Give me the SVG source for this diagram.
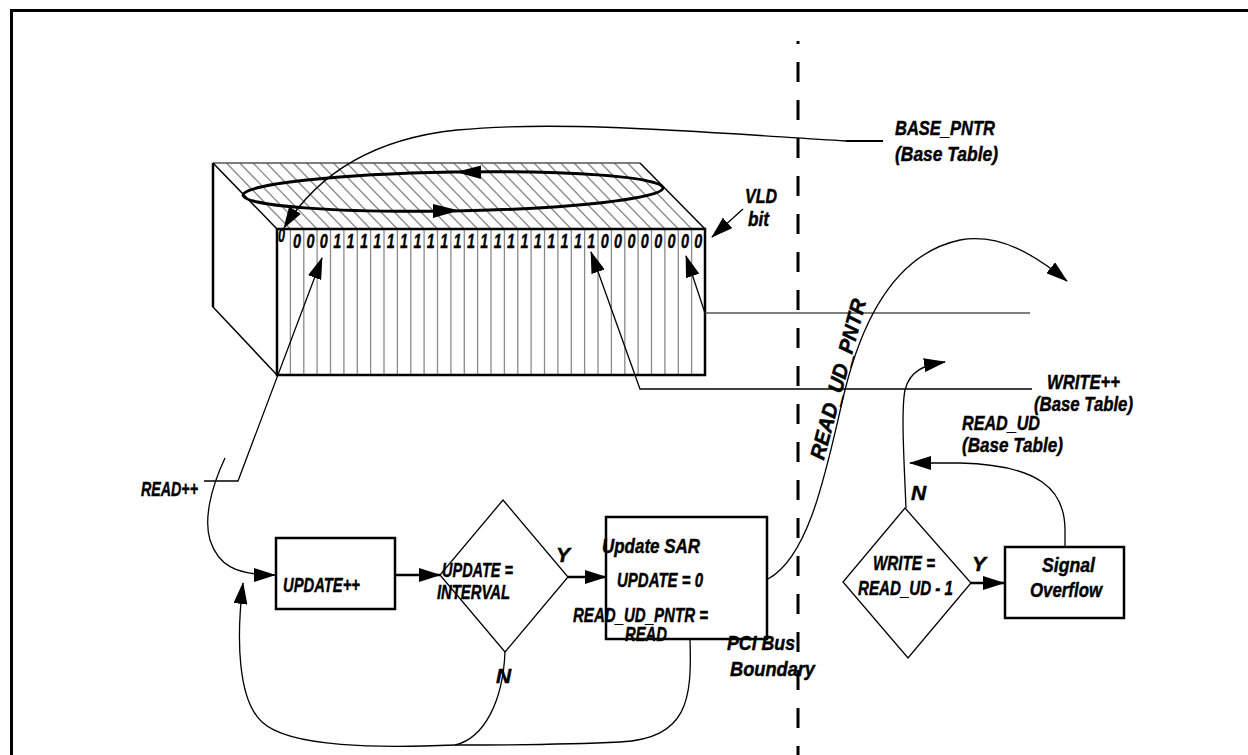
<svg xmlns="http://www.w3.org/2000/svg" width="1248" height="755" viewBox="0 0 1248 755">
<style>
.t{font-family:"Liberation Sans Narrow","Liberation Sans",Arial,sans-serif;font-weight:bold;font-style:italic;font-size:21px;fill:#000;stroke:#000;stroke-width:0.45}
.d{font-family:"Liberation Sans Narrow","Liberation Sans",Arial,sans-serif;font-weight:bold;font-style:italic;font-size:20px;fill:#000;stroke:#000;stroke-width:0.4;text-anchor:middle}
.c{fill:none;stroke:#000;stroke-width:1.3}
.box{fill:#fff;stroke:#000;stroke-width:2.5}
.dia{fill:#fff;stroke:#000;stroke-width:1.3}
.g{stroke:#8a8a8a;stroke-width:1.3}
</style>
<defs>
<marker id="ah" viewBox="0 0 22 14" refX="21" refY="7" markerWidth="22" markerHeight="14" markerUnits="userSpaceOnUse" orient="auto"><path d="M0,0 L22,7 L0,14 z" fill="#000"/></marker>
</defs>
<path d="M11.5,755 L11.5,10.5 L1248,10.5" fill="none" stroke="#000" stroke-width="3"/>

<g id="register-block">
<polygon points="213,163 640,163 705,229 277,229" fill="#fff" stroke="none"/>
<g class="g">
<line x1="226.4" y1="163" x2="290.4" y2="229"/><line x1="239.8" y1="163" x2="303.8" y2="229"/><line x1="253.1" y1="163" x2="317.1" y2="229"/><line x1="266.5" y1="163" x2="330.5" y2="229"/><line x1="279.9" y1="163" x2="343.9" y2="229"/><line x1="293.3" y1="163" x2="357.3" y2="229"/><line x1="306.6" y1="163" x2="370.6" y2="229"/><line x1="320" y1="163" x2="384" y2="229"/><line x1="333.4" y1="163" x2="397.4" y2="229"/><line x1="346.8" y1="163" x2="410.8" y2="229"/><line x1="360.1" y1="163" x2="424.1" y2="229"/><line x1="373.5" y1="163" x2="437.5" y2="229"/><line x1="386.9" y1="163" x2="450.9" y2="229"/><line x1="400.3" y1="163" x2="464.3" y2="229"/><line x1="413.6" y1="163" x2="477.6" y2="229"/><line x1="427" y1="163" x2="491" y2="229"/><line x1="440.4" y1="163" x2="504.4" y2="229"/><line x1="453.8" y1="163" x2="517.8" y2="229"/><line x1="467.1" y1="163" x2="531.1" y2="229"/><line x1="480.5" y1="163" x2="544.5" y2="229"/><line x1="493.9" y1="163" x2="557.9" y2="229"/><line x1="507.3" y1="163" x2="571.3" y2="229"/><line x1="520.6" y1="163" x2="584.6" y2="229"/><line x1="534" y1="163" x2="598" y2="229"/><line x1="547.4" y1="163" x2="611.4" y2="229"/><line x1="560.8" y1="163" x2="624.8" y2="229"/><line x1="574.1" y1="163" x2="638.1" y2="229"/><line x1="587.5" y1="163" x2="651.5" y2="229"/><line x1="600.9" y1="163" x2="664.9" y2="229"/><line x1="614.3" y1="163" x2="678.3" y2="229"/><line x1="627.6" y1="163" x2="691.6" y2="229"/>
</g>
<line x1="213" y1="163" x2="640" y2="163" stroke="#555" stroke-width="1.5"/>
<line x1="213" y1="163" x2="277" y2="229" stroke="#000" stroke-width="1.5"/>
<line x1="640" y1="163" x2="705" y2="229" stroke="#000" stroke-width="1.5"/>
<polyline points="213,163 213,307 277,375" fill="none" stroke="#000" stroke-width="1.5"/>
<line x1="213" y1="163" x2="213" y2="307" stroke="#000" stroke-width="2.5"/>
<rect x="277" y="229" width="428" height="146" fill="#fff" stroke="none"/>
<g class="g">
<line x1="290.4" y1="229" x2="290.4" y2="375"/><line x1="303.8" y1="229" x2="303.8" y2="375"/><line x1="317.1" y1="229" x2="317.1" y2="375"/><line x1="330.5" y1="229" x2="330.5" y2="375"/><line x1="343.9" y1="229" x2="343.9" y2="375"/><line x1="357.3" y1="229" x2="357.3" y2="375"/><line x1="370.6" y1="229" x2="370.6" y2="375"/><line x1="384" y1="229" x2="384" y2="375"/><line x1="397.4" y1="229" x2="397.4" y2="375"/><line x1="410.8" y1="229" x2="410.8" y2="375"/><line x1="424.1" y1="229" x2="424.1" y2="375"/><line x1="437.5" y1="229" x2="437.5" y2="375"/><line x1="450.9" y1="229" x2="450.9" y2="375"/><line x1="464.3" y1="229" x2="464.3" y2="375"/><line x1="477.6" y1="229" x2="477.6" y2="375"/><line x1="491" y1="229" x2="491" y2="375"/><line x1="504.4" y1="229" x2="504.4" y2="375"/><line x1="517.8" y1="229" x2="517.8" y2="375"/><line x1="531.1" y1="229" x2="531.1" y2="375"/><line x1="544.5" y1="229" x2="544.5" y2="375"/><line x1="557.9" y1="229" x2="557.9" y2="375"/><line x1="571.3" y1="229" x2="571.3" y2="375"/><line x1="584.6" y1="229" x2="584.6" y2="375"/><line x1="598" y1="229" x2="598" y2="375"/><line x1="611.4" y1="229" x2="611.4" y2="375"/><line x1="624.8" y1="229" x2="624.8" y2="375"/><line x1="638.1" y1="229" x2="638.1" y2="375"/><line x1="651.5" y1="229" x2="651.5" y2="375"/><line x1="664.9" y1="229" x2="664.9" y2="375"/><line x1="678.3" y1="229" x2="678.3" y2="375"/><line x1="691.6" y1="229" x2="691.6" y2="375"/>
</g>
<rect x="277" y="229" width="428" height="146" fill="none" stroke="#000" stroke-width="2.5"/>
<text class="d" x="281.5" y="242" font-size="16" textLength="7" lengthAdjust="spacingAndGlyphs">0</text>
<text class="d" x="297.1" y="248" textLength="8" lengthAdjust="spacingAndGlyphs">0</text>
<text class="d" x="310.4" y="248" textLength="8" lengthAdjust="spacingAndGlyphs">0</text>
<text class="d" x="323.8" y="248" textLength="8" lengthAdjust="spacingAndGlyphs">0</text>
<text class="d" x="337.2" y="248" textLength="8" lengthAdjust="spacingAndGlyphs">1</text>
<text class="d" x="350.6" y="248" textLength="8" lengthAdjust="spacingAndGlyphs">1</text>
<text class="d" x="363.9" y="248" textLength="8" lengthAdjust="spacingAndGlyphs">1</text>
<text class="d" x="377.3" y="248" textLength="8" lengthAdjust="spacingAndGlyphs">1</text>
<text class="d" x="390.7" y="248" textLength="8" lengthAdjust="spacingAndGlyphs">1</text>
<text class="d" x="404.1" y="248" textLength="8" lengthAdjust="spacingAndGlyphs">1</text>
<text class="d" x="417.4" y="248" textLength="8" lengthAdjust="spacingAndGlyphs">1</text>
<text class="d" x="430.8" y="248" textLength="8" lengthAdjust="spacingAndGlyphs">1</text>
<text class="d" x="444.2" y="248" textLength="8" lengthAdjust="spacingAndGlyphs">1</text>
<text class="d" x="457.6" y="248" textLength="8" lengthAdjust="spacingAndGlyphs">1</text>
<text class="d" x="470.9" y="248" textLength="8" lengthAdjust="spacingAndGlyphs">1</text>
<text class="d" x="484.3" y="248" textLength="8" lengthAdjust="spacingAndGlyphs">1</text>
<text class="d" x="497.7" y="248" textLength="8" lengthAdjust="spacingAndGlyphs">1</text>
<text class="d" x="511.1" y="248" textLength="8" lengthAdjust="spacingAndGlyphs">1</text>
<text class="d" x="524.4" y="248" textLength="8" lengthAdjust="spacingAndGlyphs">1</text>
<text class="d" x="537.8" y="248" textLength="8" lengthAdjust="spacingAndGlyphs">1</text>
<text class="d" x="551.2" y="248" textLength="8" lengthAdjust="spacingAndGlyphs">1</text>
<text class="d" x="564.6" y="248" textLength="8" lengthAdjust="spacingAndGlyphs">1</text>
<text class="d" x="577.9" y="248" textLength="8" lengthAdjust="spacingAndGlyphs">1</text>
<text class="d" x="591.3" y="248" textLength="8" lengthAdjust="spacingAndGlyphs">1</text>
<text class="d" x="604.7" y="248" textLength="8" lengthAdjust="spacingAndGlyphs">0</text>
<text class="d" x="618.1" y="248" textLength="8" lengthAdjust="spacingAndGlyphs">0</text>
<text class="d" x="631.4" y="248" textLength="8" lengthAdjust="spacingAndGlyphs">0</text>
<text class="d" x="644.8" y="248" textLength="8" lengthAdjust="spacingAndGlyphs">0</text>
<text class="d" x="658.2" y="248" textLength="8" lengthAdjust="spacingAndGlyphs">0</text>
<text class="d" x="671.6" y="248" textLength="8" lengthAdjust="spacingAndGlyphs">0</text>
<text class="d" x="684.9" y="248" textLength="8" lengthAdjust="spacingAndGlyphs">0</text>
<text class="d" x="698.3" y="248" textLength="8" lengthAdjust="spacingAndGlyphs">0</text>
<ellipse cx="453" cy="191.5" rx="210" ry="19.5" transform="rotate(-1 453 191.5)" fill="none" stroke="#000" stroke-width="3"/>
<polygon points="456,172 481,165.5 481,179" fill="#000"/>
<polygon points="459,210.5 433,204 433,218" fill="#000"/>
</g>

<g id="pci-boundary">
<line x1="798" y1="41" x2="798" y2="755" stroke="#000" stroke-width="3" stroke-dasharray="20 18" stroke-dashoffset="17"/>
<text class="t" x="727" y="650" textLength="68" lengthAdjust="spacingAndGlyphs">PCI Bus</text>
<text class="t" x="730" y="676" textLength="85" lengthAdjust="spacingAndGlyphs">Boundary</text>
</g>

<g id="connectors">
<path class="c" d="M883,141 L846,141 C 700,132 560,120 457,130 C 380,138 320,170 284,228" marker-end="url(#ah)"/>
<line x1="846" y1="141" x2="883" y2="141" stroke="#000" stroke-width="2.2"/>
<path class="c" d="M743,209 L712,237" marker-end="url(#ah)"/>
<path class="c" d="M1030,313 L705,313" style="stroke:#555;stroke-width:1.6"/>
<path class="c" d="M705,313 L686,256" marker-end="url(#ah)"/>
<path class="c" d="M1032,389 L640,389 L591,252" marker-end="url(#ah)"/>
<path class="c" d="M204,481 L238,481 L322,258" marker-end="url(#ah)"/>
<path class="c" d="M225,458 C 210,490 204,520 210,540 C 218,565 235,575 275,575" marker-end="url(#ah)"/>
<path class="c" d="M395,575 L440,575" style="stroke-width:2.5" marker-end="url(#ah)"/>
<path class="c" d="M568,577 L606,577" style="stroke-width:2.5" marker-end="url(#ah)"/>
<path class="c" d="M690,639 C 692,700 688,738 620,742 C 560,745 490,745 455,745"/>
<path class="c" d="M505,652 C 503,700 485,738 455,745"/>
<path class="c" d="M455,745 C 380,748 290,748 262,722 C 238,700 236,640 243,583" marker-end="url(#ah)"/>
<path class="c" d="M768,579 C 812,555 828,460 845,390 C 860,330 890,255 960,240 C 1000,233 1035,255 1067,281" marker-end="url(#ah)"/>
<path class="c" d="M906,508 C 904,460 901,410 905,390 C 910,370 925,365 945,362" marker-end="url(#ah)"/>
<path class="c" d="M1065,547 L1065,530 C 1065,490 1040,465 960,463 L910,463" marker-end="url(#ah)"/>
<path class="c" d="M971,583 L1004,583" style="stroke-width:2.5" marker-end="url(#ah)"/>
</g>

<g id="labels">
<text class="t" x="895" y="135" textLength="100" lengthAdjust="spacingAndGlyphs">BASE_PNTR</text>
<text class="t" x="895" y="161" textLength="103" lengthAdjust="spacingAndGlyphs">(Base Table)</text>
<text class="t" x="745" y="203" textLength="32" lengthAdjust="spacingAndGlyphs">VLD</text>
<text class="t" x="748" y="226" textLength="21" lengthAdjust="spacingAndGlyphs">bit</text>
<text class="t" x="1047" y="389" textLength="73" lengthAdjust="spacingAndGlyphs">WRITE++</text>
<text class="t" x="1034" y="411" textLength="99" lengthAdjust="spacingAndGlyphs">(Base Table)</text>
<text class="t" x="962" y="430" textLength="78" lengthAdjust="spacingAndGlyphs">READ_UD</text>
<text class="t" x="962" y="452" textLength="101" lengthAdjust="spacingAndGlyphs">(Base Table)</text>
<text class="t" text-anchor="middle" transform="translate(845 381) rotate(-75)" font-size="22" textLength="165" lengthAdjust="spacingAndGlyphs">READ_UD_PNTR</text>
<text class="t" x="141" y="496" textLength="57" lengthAdjust="spacingAndGlyphs">READ++</text>
</g>

<g id="update-inc">
<rect class="box" x="276" y="538" width="119" height="71"/>
<text class="t" x="283" y="592" textLength="77" lengthAdjust="spacingAndGlyphs">UPDATE++</text>
</g>

<g id="update-check">
<polygon class="dia" points="503,500 568,577 505,652 440,575"/>
<text class="t" x="442" y="577" textLength="71" lengthAdjust="spacingAndGlyphs">UPDATE =</text>
<text class="t" x="437" y="599" textLength="73" lengthAdjust="spacingAndGlyphs">INTERVAL</text>
<text class="t" x="556" y="562">Y</text>
<text class="t" x="496" y="683">N</text>
</g>

<g id="update-sar">
<rect class="box" x="606" y="517" width="161" height="122" style="fill:none"/>
<text class="t" x="602" y="553" font-size="22" textLength="98" lengthAdjust="spacingAndGlyphs">Update SAR</text>
<text class="t" x="617" y="587" textLength="86" lengthAdjust="spacingAndGlyphs">UPDATE = 0</text>
<text class="t" x="573" y="622" textLength="135" lengthAdjust="spacingAndGlyphs">READ_UD_PNTR =</text>
<text class="t" x="625" y="641" textLength="42" lengthAdjust="spacingAndGlyphs">READ</text>
</g>

<g id="overflow-check">
<polygon class="dia" points="905,508 971,583 908,658 843,582"/>
<text class="t" x="873" y="570" textLength="62" lengthAdjust="spacingAndGlyphs">WRITE =</text>
<text class="t" x="858" y="595" textLength="95" lengthAdjust="spacingAndGlyphs">READ_UD - 1</text>
<text class="t" x="972" y="571">Y</text>
<text class="t" x="911" y="500">N</text>
</g>

<g id="signal-overflow">
<rect class="box" x="1005" y="547" width="119" height="71"/>
<text class="t" x="1042" y="572" textLength="53" lengthAdjust="spacingAndGlyphs">Signal</text>
<text class="t" x="1030" y="597" textLength="72" lengthAdjust="spacingAndGlyphs">Overflow</text>
</g>
</svg>
